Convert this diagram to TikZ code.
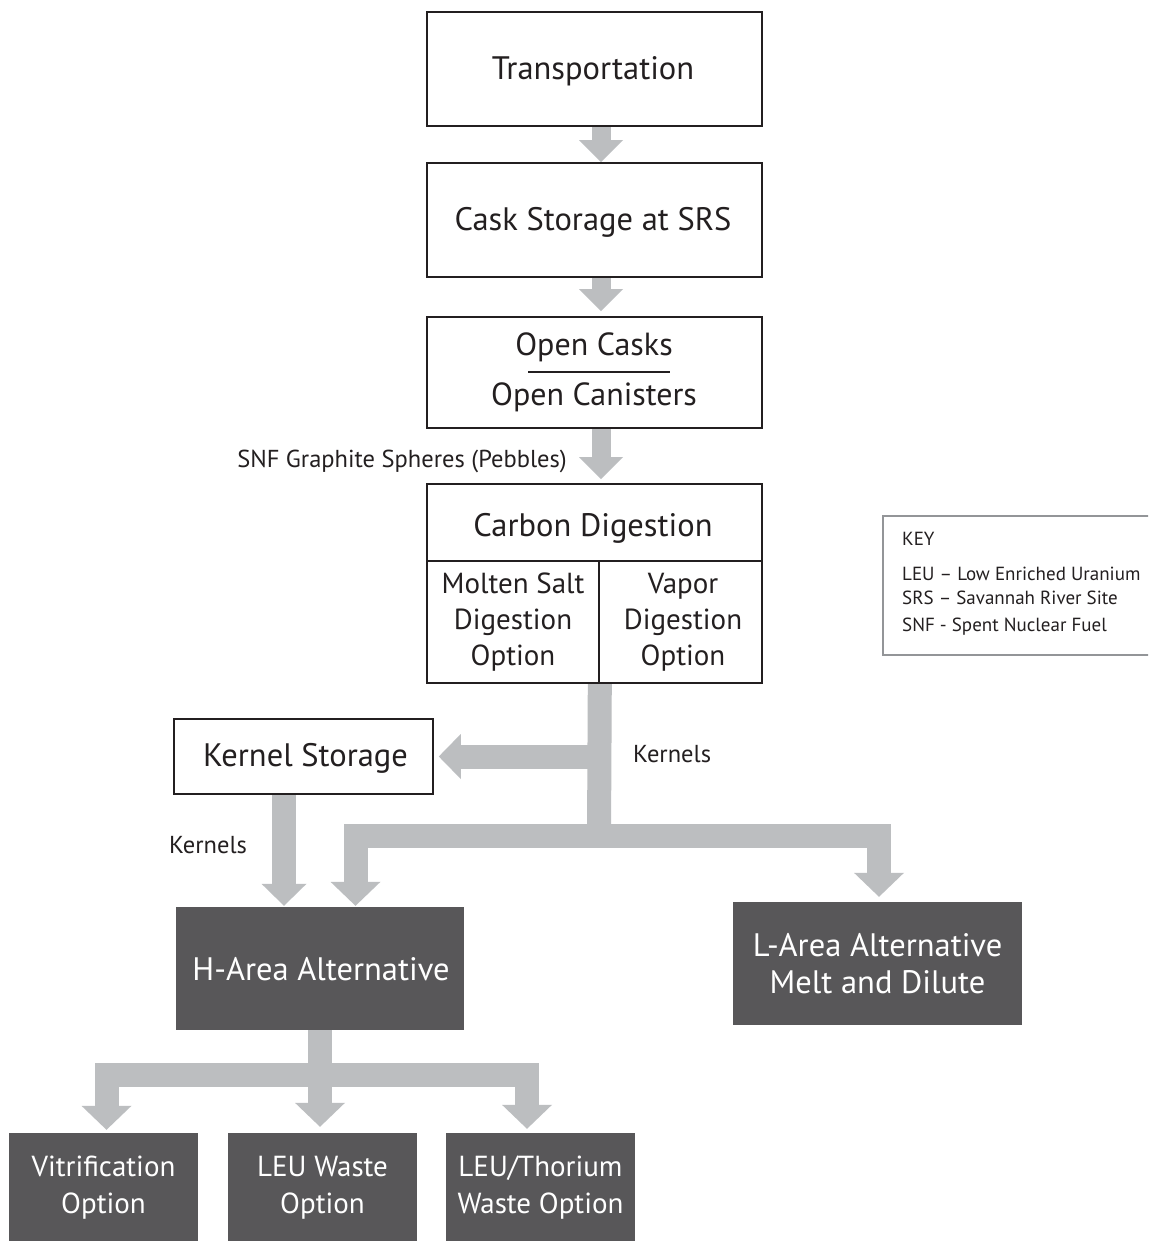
\documentclass[tikz,border=0pt]{standalone}
\usepackage{fontspec}
\setmainfont{PT Sans}
\usetikzlibrary{arrows.meta,calc}
\definecolor{agray}{RGB}{188,190,192}
\definecolor{dgray}{RGB}{88,87,89}
\definecolor{ink}{RGB}{35,31,32}
\definecolor{kgray}{RGB}{147,149,152}
\pgfdeclarelayer{background}
\pgfsetlayers{background,main}
\begin{document}
\begin{tikzpicture}[x=1pt,y=-1pt,
  wbox/.style={draw=ink, line width=1.6pt, fill=white, inner sep=0pt, text=ink,
    font=\fontsize{29}{36}\selectfont, align=center},
  big/.style={font=\fontsize{32.5}{37}\selectfont},
  dbox/.style={fill=dgray, draw=none, inner sep=0pt, text=white,
    font=\fontsize{29}{37}\selectfont, align=center},
  lbl/.style={inner sep=0pt, text=ink, font=\fontsize{24.5}{28}\selectfont},
  keytxt/.style={inner sep=0pt, text=ink, font=\fontsize{19}{22}\selectfont, anchor=base west},
  fatS/.style={draw=agray, line width=19pt, line join=miter,
    -{Triangle[length=22pt,width=44pt,line width=0pt]}},
  fatB/.style={draw=agray, line width=24pt, line join=miter,
    -{Triangle[length=24pt,width=50pt,line width=0pt]}},
  fatK/.style={draw=agray, line width=24pt, line join=miter,
    -{Triangle[length=22pt,width=45pt,line width=0pt]}},
  bar/.style={draw=agray, line width=24pt, line join=miter}
]
\clip (0,0) rectangle (1148,1241);

% boxes
\node[wbox, minimum width=335pt, minimum height=114pt] (trans) at (594.5,69) {};
\node[wbox, big, inner sep=0pt, draw=none, fill=none, anchor=base] (transt) at (593,80) {Transportation};
\node[wbox, minimum width=335pt, minimum height=114pt] (cask) at (594.5,220) {};
\node[wbox, big, draw=none, fill=none, anchor=base] (caskt) at (593,231) {Cask Storage at SRS};
\node[wbox, minimum width=335pt, minimum height=111pt] (open) at (594.5,372.5) {};
\node[lbl, font=\fontsize{32}{36}\selectfont, anchor=base] (oc1) at (594,355) {Open Casks};
\node[lbl, font=\fontsize{32}{36}\selectfont, anchor=base] (oc2) at (594,405) {Open Canisters};
\coordinate (r1) at (528,372);
\coordinate (r2) at (670,372);
\draw[ink, line width=1.5pt] (r1) -- (r2);

\node[wbox, minimum width=335pt, minimum height=77pt] (carbon) at (594.5,522.5) {};
\node[wbox, big, draw=none, fill=none, anchor=base] (carbont) at (593,536) {Carbon Digestion};
\node[wbox, minimum width=172pt, minimum height=122pt] (molten) at (513,622) {Molten Salt\\Digestion\\Option};
\node[wbox, minimum width=163pt, minimum height=122pt] (vapor) at (680.5,622) {};
\node[wbox, draw=none, fill=none] (vaport) at (683,622) {Vapor\\Digestion\\Option};

\node[wbox, minimum width=259pt, minimum height=75pt] (ks) at (303.5,756.5) {};
\node[wbox, big, draw=none, fill=none, anchor=base] (kst) at (305.5,766) {Kernel Storage};

\node[dbox, minimum width=288pt, minimum height=123pt] (harea) at (320,968.5) {};
\node[dbox, big, fill=none, anchor=base] (hareat) at (321,980) {H-Area Alternative};
\node[dbox, big, minimum width=289pt, minimum height=123pt] (larea) at (877.5,963.5) {L-Area Alternative\\Melt and Dilute};

\node[dbox, minimum width=189pt, minimum height=110pt] (vit) at (103.5,1188) {Vitrification\\Option};
\node[dbox, minimum width=189pt, minimum height=110pt] (leuw) at (322.5,1188) {LEU Waste\\Option};
\node[dbox, minimum width=189pt, minimum height=110pt] (leut) at (540.5,1188) {LEU/Thorium\\Waste Option};

% labels
\node[lbl, anchor=base east] (snf) at (567,467) {SNF Graphite Spheres (Pebbles)};
\node[lbl, anchor=base west] (kr) at (633,762) {Kernels};
\node[lbl, anchor=base west] (kl) at (169,853) {Kernels};

% key
\node[draw=kgray, line width=2pt, minimum width=290pt, minimum height=139pt, anchor=north west, inner sep=0pt] (key) at (882,515) {};
\node[keytxt] (k0) at (902,545) {KEY};
\node[keytxt] (k1) at (902,580) {LEU – Low Enriched Uranium};
\node[keytxt] (k2) at (902,604) {SRS – Savannah River Site};
\node[keytxt] (k3) at (902,631) {SNF - Spent Nuclear Fuel};

% connectors
\coordinate (j0) at (599,756.5);
\coordinate (j1) at (599,836);
\coordinate (j2) at (320,1074.5);
\begin{pgfonlayer}{background}
\fill[white] (0,0) rectangle (1148,1241);
\draw[fatS] ([xshift=6.5pt]trans.south) -- ([xshift=6.5pt]cask.north);
\draw[fatS] ([xshift=6.5pt]cask.south) -- ([xshift=6.5pt,yshift=5pt]open.north);
\draw[fatS] ([xshift=6.5pt]open.south) -- ([xshift=6.5pt,yshift=4pt]carbon.north);
\draw[bar] (molten.south east) -- (j1);
\draw[fatK] (j0) -- ([xshift=5pt]ks.east);
\draw[fatB] (j1) -| ([xshift=35.5pt,yshift=1pt]harea.north);
\draw[fatB] (j1) -| ([xshift=1.5pt,yshift=5pt]larea.north);
\draw[fatK] ([xshift=-19.5pt]ks.south) -- ([xshift=-36pt,yshift=1pt]harea.north);
\draw[bar] (harea.south) -- (j2);
\draw[fatB] (j2) -| ([xshift=3pt,yshift=3pt]vit.north);
\draw[fatB] (harea.south) -- ([xshift=-2.5pt,yshift=6pt]leuw.north);
\draw[fatB] (j2) -| ([xshift=-13.5pt,yshift=4pt]leut.north);
\end{pgfonlayer}
\end{tikzpicture}
\end{document}
